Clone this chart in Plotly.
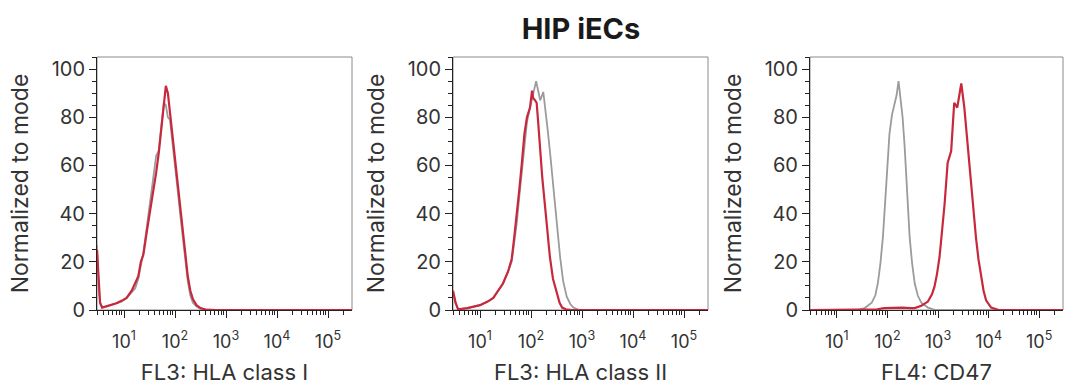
import plotly.graph_objects as go

# ---------------- data (log10 of fluorescence, % of mode) ----------------
p1_red_log = [0.47, 0.50, 0.53, 0.57, 0.65, 0.75, 0.85, 0.95, 1.05, 1.15, 1.22, 1.28, 1.33, 1.38,
              1.45, 1.52, 1.58, 1.63, 1.68, 1.73, 1.78, 1.82, 1.86, 1.90, 1.95, 2.00, 2.05, 2.10,
              2.15, 2.20, 2.25, 2.30, 2.35, 2.42, 2.50, 2.60, 2.80, 5.47]
p1_red_val = [25, 12, 3, 1, 1.5, 2, 2.8, 3.8, 5, 8, 11, 14, 20, 23,
              33, 42, 50, 57, 65, 76, 87, 93, 90, 82, 72, 62, 53, 42,
              33, 23, 14, 8, 4.5, 2, 0.8, 0.2, 0, 0]
p1_gray_log = [0.47, 0.50, 0.53, 0.57, 0.65, 0.75, 0.85, 0.95, 1.05, 1.15, 1.22, 1.28, 1.33, 1.38,
               1.45, 1.52, 1.58, 1.63, 1.68, 1.73, 1.78, 1.82, 1.86, 1.90, 1.95, 2.00, 2.05, 2.10,
               2.15, 2.20, 2.25, 2.30, 2.35, 2.42, 2.50, 2.60, 2.80, 5.47]
p1_gray_val = [27, 10, 3, 1.2, 1.4, 2, 2.7, 3.5, 5, 7.5, 9, 13, 18, 24,
               35, 46, 56, 64, 66, 75, 86, 85, 80, 79, 70, 60, 50, 40,
               30, 20, 12, 6, 3, 1.5, 0.5, 0.1, 0, 0]

p2_red_log = [0.47, 0.52, 0.57, 0.75, 1.00, 1.15, 1.26, 1.36, 1.45, 1.55, 1.62, 1.67, 1.72, 1.77,
              1.82, 1.87, 1.92, 1.98, 2.02, 2.04, 2.08, 2.11, 2.14, 2.18, 2.22, 2.27, 2.32, 2.37,
              2.43, 2.50, 2.56, 2.61, 2.68, 2.80, 5.47]
p2_red_val = [8, 3, 0.3, 0.8, 2, 3.5, 5, 8, 11, 16, 21, 30, 39, 50,
              61, 73, 80, 84, 91, 88, 87, 86, 78, 66, 55, 44, 33, 22,
              13, 7, 3, 1, 0.3, 0, 0]
p2_gray_log = [0.47, 0.52, 0.57, 0.75, 1.00, 1.15, 1.26, 1.36, 1.45, 1.55, 1.62, 1.67, 1.72, 1.77,
               1.82, 1.87, 1.92, 1.98, 2.04, 2.10, 2.14, 2.18, 2.24, 2.28, 2.32, 2.37, 2.42, 2.47,
               2.52, 2.57, 2.63, 2.70, 2.77, 2.83, 2.95, 5.47]
p2_gray_val = [8, 3, 0.3, 0.8, 2, 3.5, 5, 8, 11, 16, 20, 28, 36, 47,
               58, 70, 78, 84, 90, 95, 91, 87, 90.5, 84, 76, 66, 55, 43,
               32, 22, 12, 5.5, 2.5, 1, 0, 0]

p3_gray_log = [0.47, 1.41, 1.55, 1.69, 1.76, 1.81, 1.86, 1.91, 1.95, 1.98, 2.01, 2.04, 2.09, 2.14,
               2.18, 2.22, 2.26, 2.30, 2.34, 2.37, 2.41, 2.44, 2.49, 2.54, 2.60, 2.67, 2.80, 2.95, 5.47]
p3_gray_val = [0, 0, 0.8, 3, 6, 11, 19, 30, 43, 55, 64, 73, 81, 86,
               89, 95, 88, 80, 68, 55, 42, 30, 19, 11, 6, 3, 1, 0, 0]
p3_red_log = [0.47, 1.61, 1.80, 1.93, 2.10, 2.30, 2.45, 2.54, 2.67, 2.80, 2.88, 2.93, 2.98, 3.03,
              3.08, 3.13, 3.19, 3.23, 3.26, 3.29, 3.32, 3.35, 3.38, 3.42, 3.46, 3.52, 3.58, 3.62,
              3.66, 3.70, 3.75, 3.80, 3.85, 3.90, 3.95, 4.05, 4.20, 5.47]
p3_red_val = [0, 0, 0.3, 0.8, 1, 1, 0.8, 0.8, 1.8, 3.5, 6.5, 9.7, 15, 22,
              33, 44, 61, 64, 66, 76, 86, 85, 84, 89, 94, 84, 69, 60,
              50, 40, 30, 21, 14, 8, 4, 1, 0, 0]

panels = [
    ("FL3: HLA class I", p1_gray_log, p1_gray_val, p1_red_log, p1_red_val),
    ("FL3: HLA class II", p2_gray_log, p2_gray_val, p2_red_log, p2_red_val),
    ("FL4: CD47", p3_gray_log, p3_gray_val, p3_red_log, p3_red_val),
]
title_text = "HIP iECs"
y_title = "Normalized to mode"
x_tick_vals = [10, 100, 1000, 10000, 100000]
x_tick_text = ["10<sup>1</sup>", "10<sup>2</sup>", "10<sup>3</sup>", "10<sup>4</sup>", "10<sup>5</sup>"]
y_tick_vals = [0, 20, 40, 60, 80, 100]

# ---------------- layout geometry ----------------
W, H = 1091, 391
x_domains_px = [(97, 352), (453, 708), (810, 1063)]
y_dom = [(H - 310) / H, (H - 57) / H]
XRANGE = [0.47, 5.47]
YRANGE = [0, 105]

RED = "#c8283c"
GRAY = "#9b9b9b"
TXT = "#333333"
FONT = "Inter"

minor_vals = []
for dec in range(0, 6):
    for m in range(2, 10):
        v = m * 10 ** dec
        if 10 ** XRANGE[0] <= v <= 10 ** XRANGE[1]:
            minor_vals.append(v)

fig = go.Figure()
shapes = []
for i, (xt, gl, gv, rl, rv) in enumerate(panels):
    n = "" if i == 0 else str(i + 1)
    xa, ya = "x" + n, "y" + n
    fig.add_trace(go.Scatter(x=[10 ** v for v in gl], y=gv, mode="lines",
                             line=dict(color=GRAY, width=1.8), xaxis=xa, yaxis=ya,
                             showlegend=False, hoverinfo="skip"))
    fig.add_trace(go.Scatter(x=[10 ** v for v in rl], y=rv, mode="lines",
                             line=dict(color=RED, width=2.2), xaxis=xa, yaxis=ya,
                             showlegend=False, hoverinfo="skip"))
    d = x_domains_px[i]
    fig.layout["xaxis" + n] = dict(
        domain=[d[0] / W, d[1] / W], anchor=ya, type="log", range=XRANGE,
        automargin=False,
        tickvals=x_tick_vals, ticktext=x_tick_text, ticks="outside", ticklen=7,
        ticklabelstandoff=8,
        tickcolor="#222", tickwidth=1, showline=True, linecolor="#222", linewidth=1,
        showgrid=False, zeroline=False, layer="below traces",
        minor=dict(tickvals=minor_vals, ticks="outside", ticklen=4, tickcolor="#222", showgrid=False),
        tickfont=dict(family=FONT, size=18, color=TXT),
        title=dict(text=xt, font=dict(family=FONT, size=22, color=TXT), standoff=14),
    )
    fig.layout["yaxis" + n] = dict(
        domain=y_dom, anchor=xa, range=YRANGE, tickvals=y_tick_vals,
        automargin=False,
        ticks="outside", ticklen=7, tickcolor="#222", tickwidth=1,
        showline=True, linecolor="#222", linewidth=1, showgrid=False, zeroline=False,
        layer="below traces",
        minor=dict(dtick=5, ticks="outside", ticklen=4, tickcolor="#222", showgrid=False),
        tickfont=dict(family=FONT, size=20, color=TXT),
        title=dict(text=y_title, font=dict(family=FONT, size=23, color=TXT), standoff=16),
    )
    shapes.append(dict(type="rect", xref=xa + " domain", yref=ya + " domain",
                       x0=0, x1=1, y0=0, y1=1, line=dict(color="#8a8a8a", width=1),
                       layer="below"))

fig.update_layout(
    width=W, height=H, margin=dict(l=0, r=0, t=0, b=0),
    paper_bgcolor="white", plot_bgcolor="white", shapes=shapes,
    title=dict(text="<b>" + title_text + "</b>", x=581 / W, xanchor="center",
               y=1 - 29 / H, yanchor="middle",
               font=dict(family=FONT, size=29, color="#1a1a1a", weight=900)),
)
fig.write_html("out.html", config={"displayModeBar": False},
               post_script="document.body.style.margin='0';")
